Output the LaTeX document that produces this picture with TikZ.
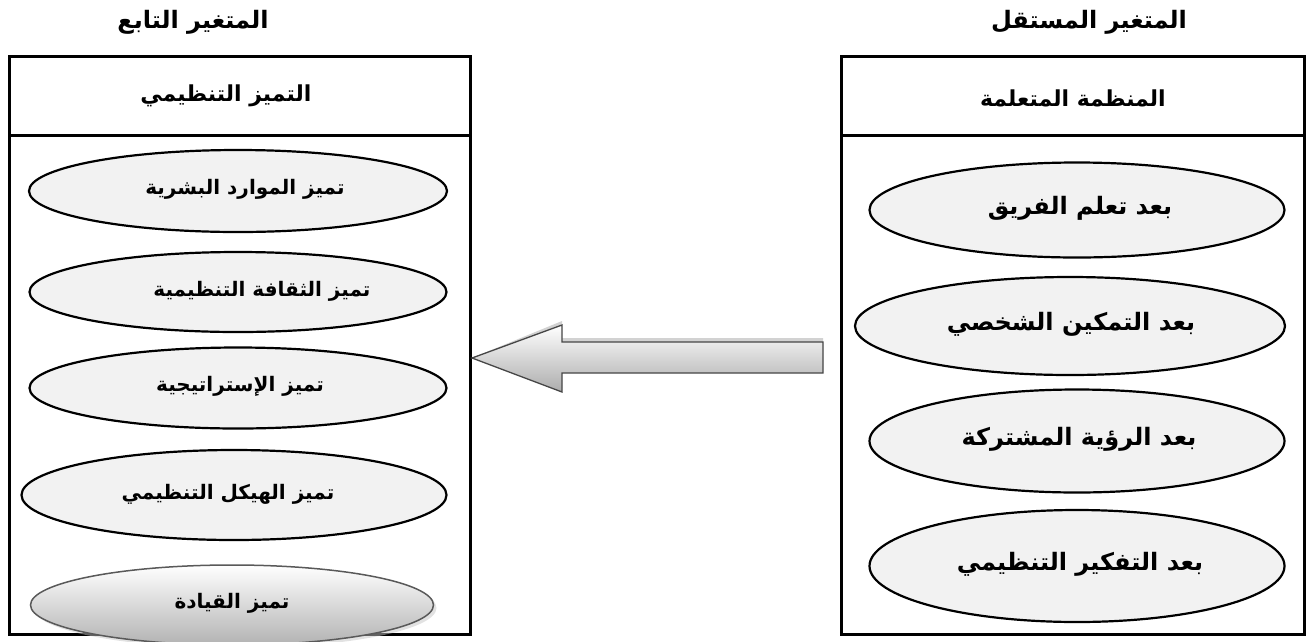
\documentclass[tikz,border=0pt]{standalone}
\usepackage{fontspec}
\newfontfamily\arabicfont[Script=Arabic]{DejaVu Sans}
\TeXXeTstate=1
\usetikzlibrary{shapes.geometric,shadows}
\tikzset{
  frame/.style={draw, line width=3pt, inner sep=0, anchor=north west},
  ell/.style={ellipse, draw, line width=2.2pt, fill=gray!10, inner sep=0},
  lbl/.style={font=\arabicfont\bfseries\fontsize{20}{24}\selectfont},
  big/.style={font=\arabicfont\bfseries\fontsize{24}{28}\selectfont},
  ttl/.style={font=\arabicfont\bfseries\fontsize{24}{28}\selectfont},
  hdr/.style={font=\arabicfont\bfseries\fontsize{22}{26}\selectfont},
}
\def\arrowpath{(tip) -- ([xshift=90pt]tip |- 0,325) -- ([xshift=90pt]tip |- 0,342) -- (tail |- 0,342)
  -- (tail |- 0,373) -- ([xshift=90pt]tip |- 0,373) -- ([xshift=90pt]tip |- 0,392) -- cycle}
\begin{document}
\begin{tikzpicture}[x=1pt,y=-1pt]
\useasboundingbox (0,0) rectangle (1312,641);
% frames
\node[frame, minimum width=461pt, minimum height=578pt] (lbox) at (8,55) {};
\node[frame, minimum width=463pt, minimum height=578pt] (rbox) at (840,55) {};
\draw[line width=3pt] (lbox.west |- 0,135) -- (lbox.east |- 0,135);
\draw[line width=3pt] (rbox.west |- 0,135) -- (rbox.east |- 0,135);
% titles
\node[ttl] (ltitle) at (193,22) {\beginR المتغير التابع\endR};
\node[ttl] (rtitle) at (1089,22) {\beginR المتغير المستقل\endR};
\node[hdr] (lhead) at (226,96) {\beginR التميز التنظيمي\endR};
\node[hdr] (rhead) at (1073,98) {\beginR المنظمة المتعلمة\endR};
% left ellipses
\node[ell, minimum width=418pt, minimum height=82pt] (l1) at (238,191) {};
\node[lbl] (t1) at (245,189) {\beginR تميز الموارد البشرية\endR};
\node[ell, minimum width=417pt, minimum height=80pt] (l2) at (238,292) {};
\node[lbl] (t2) at (262,291) {\beginR تميز الثقافة التنظيمية\endR};
\node[ell, minimum width=417pt, minimum height=81pt] (l3) at (238,388) {};
\node[lbl] (t3) at (240,386) {\beginR تميز الإستراتيجية\endR};
\node[ell, minimum width=425pt, minimum height=90pt] (l4) at (234,495) {};
\node[lbl] (t4) at (228,494) {\beginR تميز الهيكل التنظيمي\endR};
\node[ellipse, draw=gray!70!black, line width=1.5pt, inner sep=0, top color=white, bottom color=gray!60,
      drop shadow={shadow xshift=3pt, shadow yshift=-3pt, fill=gray!45},
      minimum width=403pt, minimum height=80pt] (l5) at (232,605) {};
\node[lbl] (t5) at (232,603) {\beginR تميز القيادة\endR};
% right ellipses
\node[ell, minimum width=415pt, minimum height=95pt] (r1) at (1077,210) {};
\node[big] (s1) at (1080,208) {\beginR بعد تعلم الفريق\endR};
\node[ell, minimum width=430pt, minimum height=98pt] (r2) at (1070,326) {};
\node[big] (s2) at (1071,324) {\beginR بعد التمكين الشخصي\endR};
\node[ell, minimum width=415pt, minimum height=103pt] (r3) at (1077,441) {};
\node[big] (s3) at (1079,439) {\beginR بعد الرؤية المشتركة\endR};
\node[ell, minimum width=415pt, minimum height=112pt] (r4) at (1077,566) {};
\node[big] (s4) at (1080,564) {\beginR بعد التفكير التنظيمي\endR};
% arrow from right box to left box
\coordinate (tip) at (lbox.east |- 0,358);
\coordinate (tail) at ([xshift=-17pt]rbox.west |- 0,358);
\fill[gray!35, shift={(3pt,4pt)}] \arrowpath;
\path[draw=gray!55!black, line width=1.3pt, top color=white, bottom color=gray!65] \arrowpath;
\end{tikzpicture}
\end{document}
